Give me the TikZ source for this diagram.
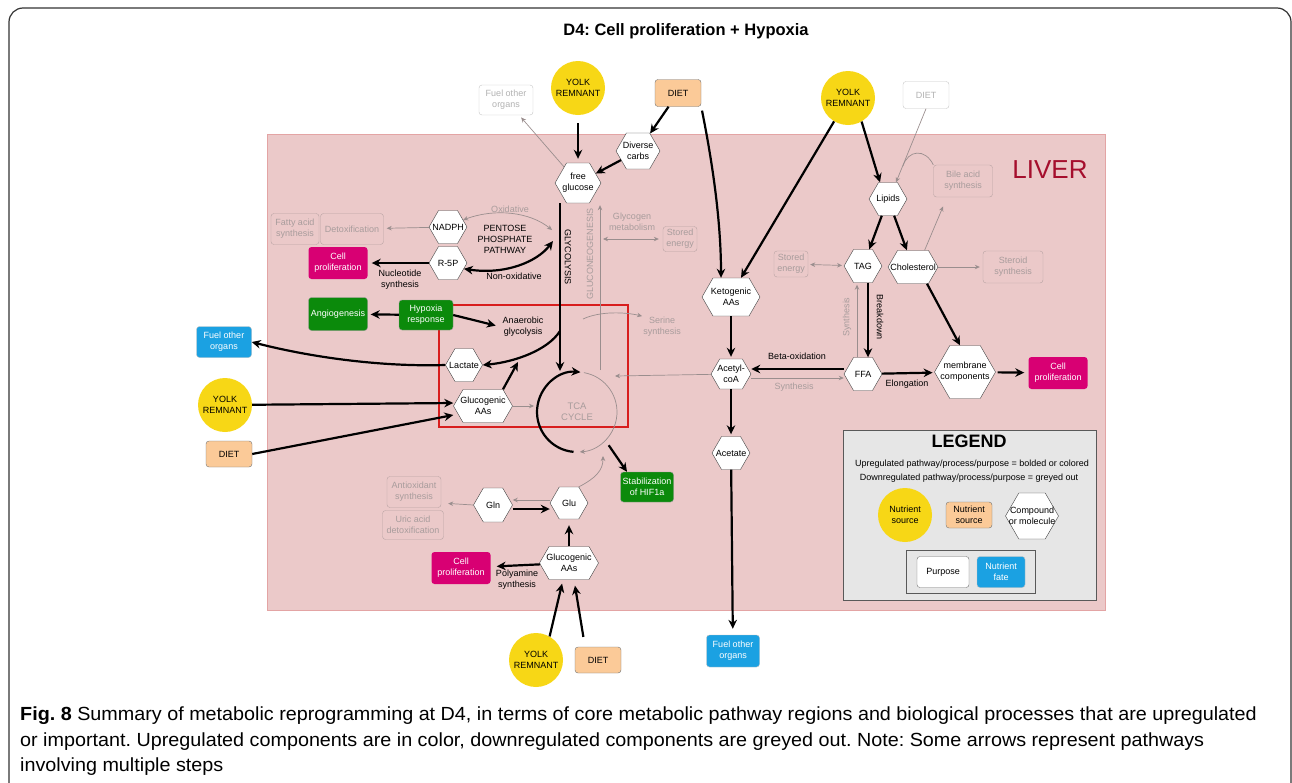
\documentclass[tikz,border=0pt]{standalone}
\usepackage{fontspec}
\setmainfont{Liberation Sans}
\newfontfamily\capfont[FakeStretch=1.04]{Liberation Sans}
\usetikzlibrary{shapes.symbols,arrows.meta}
\definecolor{yolkyellow}{HTML}{F7D716}
\definecolor{peach}{HTML}{FBCA98}
\definecolor{liverfill}{HTML}{EBC9C9}
\definecolor{liverline}{HTML}{E3A4A4}
\definecolor{livertext}{HTML}{A50E2D}
\definecolor{magentabox}{HTML}{D80073}
\definecolor{greenbox}{HTML}{0B8A0B}
\definecolor{bluebox}{HTML}{1BA1E2}
\definecolor{greytext}{HTML}{A89C9C}
\definecolor{greyline}{HTML}{B8A4A4}
\definecolor{greyarrow}{HTML}{9A8E8E}
\definecolor{redbox}{HTML}{D81E1E}
\definecolor{legendfill}{HTML}{E6E6E6}
\frenchspacing
\begin{document}
\begin{tikzpicture}[x=1pt,y=-1pt,
  every node/.style={font=\fontsize{9}{11}\selectfont, align=center, inner sep=1pt},
  txt/.style={font=\fontsize{9}{11}\selectfont, align=center},
  hex/.style={signal, signal to=east and west, signal pointer angle=120, draw=black!75, fill=white, minimum width=38pt, minimum height=33pt, label={[txt]center:#1}},
  yolk/.style={circle, fill=yolkyellow, minimum size=54pt, inner sep=0pt},
  diet/.style={rounded corners=3pt, draw=black!55, fill=peach, minimum width=46pt, minimum height=27pt},
  greybox/.style={rounded corners=3pt, draw=greyline, text=greytext, minimum height=31pt, inner xsep=2pt},
  outbox/.style={rounded corners=3pt, draw=black!22, fill=white, text=black!30},
  cell/.style={rounded corners=3pt, fill=magentabox, text=white, minimum width=59pt, minimum height=32pt},
  greenfill/.style={rounded corners=3pt, fill=greenbox, draw=black!40, text=white},
  bluefill/.style={rounded corners=3pt, fill=bluebox, draw=black!25, text=white},
  arr/.style={line width=2.2pt, >={Stealth[length=9pt,width=8.5pt]}, ->},
  dbl/.style={arr, <->},
  garr/.style={draw=greyarrow, line width=0.7pt, >={Stealth[length=5pt,width=4.5pt]}, ->},
  gdbl/.style={garr, <->}]
\useasboundingbox (0,0) rectangle (1292,782);
\draw[line width=1.2pt, black!80, rounded corners=14pt] (9,800) -- (9,8) -- (1291,8) -- (1291,800);
\node[font=\fontsize{16.5}{18}\selectfont\bfseries] (title) at (686,31) {D4: Cell proliferation + Hypoxia};
\draw[fill=liverfill, draw=liverline, line width=1pt] (267,134) rectangle (1105,610);
\node[font=\fontsize{26}{28}\selectfont, text=livertext] (liver) at (1050,170) {LIVER};
\draw[redbox, line width=1.2pt] (439,305) rectangle (628,427);

\node[yolk] (yolkA) at (578,88) {YOLK\\REMNANT};
\node[diet] (dietA) at (678,93) {DIET};
\node[outbox, minimum width=54pt, minimum height=30pt] (fuelA) at (506,100) {Fuel other\\organs};
\node[hex={Diverse\\carbs}, minimum width=44pt, minimum height=36pt] (carbs) at (638,151) {};
\node[hex={free\\glucose}, minimum width=46pt, minimum height=40pt] (glc) at (578,183) {};
\node[greybox, minimum width=34pt, minimum height=25pt] (storeA) at (680,239) {Stored\\energy};
\node[hex={NADPH}] (nadph) at (448,227) {};
\node[hex={R-5P}] (r5p) at (448,263) {};
\node[greybox, minimum width=63pt] (detox) at (352,229) {Detoxification};
\node[greybox, minimum width=48pt] (fatty) at (295,229) {Fatty acid\\synthesis};
\node[cell] (cellA) at (338,263) {Cell\\proliferation};
\node[txt] (ppp) at (505,239) {PENTOSE\\PHOSPHATE\\PATHWAY};
\node[txt, text=greytext] (oxid) at (510,209) {Oxidative};
\node[txt] (nonox) at (514,276) {Non-oxidative};
\node[txt] (nucl) at (400,280) {Nucleotide\\synthesis};
\node[txt, text=greytext] (glycog) at (632,222) {Glycogen\\metabolism};
\node[txt, rotate=-90] (glyco) at (568,257) {GLYCOLYSIS};
\node[txt, rotate=90, text=greytext] (gneo) at (590,254) {GLUCONEOGENESIS};

\node[greenfill, minimum width=59pt, minimum height=33pt] (angio) at (338,314) {Angiogenesis};
\node[greenfill, minimum width=54pt, minimum height=30pt] (hypox) at (426,315) {Hypoxia\\response};
\node[txt] (anaer) at (523,327) {Anaerobic\\glycolysis};
\node[bluefill, minimum width=55pt, minimum height=31pt] (fuelB) at (224,342) {Fuel other\\organs};
\node[hex={Lactate}, minimum width=37pt] (lact) at (464,365) {};
\node[hex={Glucogenic\\AAs}, minimum width=59pt] (glucoA) at (483,406) {};
\node[yolk] (yolkC) at (225,405) {YOLK\\REMNANT};
\node[diet, minimum height=26pt] (dietC) at (229,454) {DIET};
\node[circle, minimum size=80pt, inner sep=0pt, outer sep=0pt, text=greytext, font=\fontsize{9.5}{11}\selectfont] (tca) at (577,412) {TCA\\CYCLE};
\node[txt, text=greytext] (serine) at (662,327) {Serine\\synthesis};

\node[greenfill, minimum width=53pt, minimum height=30pt] (hif) at (647,487) {Stabilization\\of HIF1a};
\node[hex={Gln}, minimum width=39pt, minimum height=34pt] (gln) at (493,505) {};
\node[hex={Glu}, minimum height=32pt] (glu) at (569,503) {};
\node[hex={Glucogenic\\AAs}, minimum width=59pt] (glucoB) at (569,563) {};
\node[cell] (cellB) at (461,568) {Cell\\proliferation};
\node[greybox, minimum width=54pt] (antiox) at (414,492) {Antioxidant\\synthesis};
\node[greybox, minimum width=61pt, minimum height=29pt] (uric) at (413,525) {Uric acid\\detoxification};
\node[txt] (polya) at (517,580) {Polyamine\\synthesis};
\node[yolk] (yolkD) at (536,660) {YOLK\\REMNANT};
\node[diet, minimum height=26pt] (dietD) at (598,660) {DIET};

\node[yolk] (yolkB) at (848,98) {YOLK\\REMNANT};
\node[outbox, minimum width=46pt, minimum height=27pt] (dietB) at (926,95) {DIET};
\node[hex={Lipids}] (lipids) at (888,199) {};
\node[greybox, minimum width=59pt, minimum height=32pt] (bile) at (963,181) {Bile acid\\synthesis};
\node[hex={TAG}] (tag) at (863,266) {};
\node[hex={Cholesterol}, minimum width=50pt] (chol) at (913,267) {};
\node[greybox, minimum width=60pt, minimum height=32pt] (steroid) at (1013,267) {Steroid\\synthesis};
\node[greybox, minimum width=34pt, minimum height=26pt] (storeB) at (791,264) {Stored\\energy};
\node[hex={Ketogenic\\AAs}, minimum width=58pt, minimum height=38pt] (keto) at (731,297) {};
\node[hex={Acetyl-\\coA}, minimum width=40pt, minimum height=30pt] (acetyl) at (731,374) {};
\node[hex={FFA}] (ffa) at (863,374) {};
\node[hex={membrane\\components}, minimum width=61pt, minimum height=53pt] (memb) at (965,372) {};
\node[cell] (cellR) at (1058,373) {Cell\\proliferation};
\node[hex={Acetate}] (acetate) at (731,453) {};
\node[bluefill, minimum width=53pt, minimum height=32pt] (fuelC) at (733,651) {Fuel other\\organs};
\node[txt] (betaox) at (797,356) {Beta-oxidation};
\node[txt, text=greytext] (synA) at (794,387) {Synthesis};
\node[txt] (elong) at (907,384) {Elongation};
\node[txt, rotate=-90] (brk) at (880,317) {Breakdown};
\node[txt, rotate=90, text=greytext] (synB) at (847,317) {Synthesis};

\draw[fill=legendfill, draw=black!65, line width=0.8pt] (843,430) rectangle (1096,600);
\node[font=\fontsize{18}{20}\selectfont\bfseries] (legend) at (969,441) {LEGEND};
\node[txt] (legup) at (972,464) {Upregulated pathway/process/purpose = bolded or colored};
\node[txt] (legdown) at (969,478) {Downregulated pathway/process/purpose = greyed out};
\node[yolk] (legyolk) at (905,515) {Nutrient\\source};
\node[diet, minimum height=26pt] (legdiet) at (969,515) {Nutrient\\source};
\node[hex={Compound\\or molecule}, minimum width=53pt, minimum height=46pt] (leghex) at (1032,516) {};
\draw[fill=legendfill, draw=black!65, line width=0.8pt] (906,550) rectangle (1035,593);
\node[rounded corners=3pt, draw=black!55, fill=white, minimum width=52pt, minimum height=31pt] (legpurp) at (943,572) {Purpose};
\node[bluefill, minimum width=48pt, minimum height=31pt] (legfate) at (1001,572) {Nutrient\\fate};

\coordinate (tcaIn) at (615,376);
\coordinate (oxEnd) at (552,230);
\coordinate (ppEnd) at (553,241);
\coordinate (anaerPt) at (518,362);
\coordinate (gly) at (560,331);
\coordinate (tcaTop) at (560,371);
\coordinate (gneoBot) at (600,370);
\coordinate (gneoMid) at (603,239);
\coordinate (serStart) at (583,319);
\coordinate (tcaLow) at (603,456);
\coordinate (bend) at (903,166);

\draw[arr, shorten <=8pt, shorten >=4pt] (yolkA) -- (glc);
\draw[arr] (dietA) -- (carbs);
\draw[arr] (carbs) -- (glc);
\draw[garr, shorten >=3pt] (glc) -- (fuelA);
\draw[arr, shorten <=4pt] (dietA.south east) .. controls (712,160) and (721,220) .. ([xshift=-10pt]keto.north);
\draw[arr] (yolkB) -- ([xshift=10pt]keto.north);
\draw[arr] (yolkB.-60) -- ([xshift=-8pt]lipids.north);
\draw[garr] (dietB.south) -- ([xshift=8pt]lipids.north);
\draw[draw=greyarrow, line width=0.7pt] (bile.north west) .. controls (925,148) and (908,150) .. (bend);
\draw[arr] (lipids) -- (tag);
\draw[arr] (lipids) -- (chol);
\draw[garr, shorten >=10pt] ([xshift=-4pt]chol.north east) -- ([xshift=-16pt]bile.south);
\draw[garr, shorten >=3pt] (chol) -- (steroid);
\draw[gdbl, shorten <=2pt, shorten >=2pt] (storeB) -- (tag);
\draw[arr] ([xshift=5pt]tag.south) -- ([xshift=5pt]ffa.north);
\draw[garr, shorten >=2pt] ([xshift=-6pt]ffa.north) -- ([xshift=-6pt]tag.south);
\draw[arr] ([xshift=14pt]chol.south) -- ([xshift=-5pt]memb.north);
\draw[arr] ([yshift=5pt]ffa.west) -- ([yshift=5pt]acetyl.east);
\draw[garr] ([yshift=-4pt]acetyl.east) -- ([yshift=-4pt]ffa.west);
\draw[arr, shorten >=2pt] (ffa) -- (memb);
\draw[arr, shorten <=2pt, shorten >=4pt] (memb) -- (cellR);
\draw[arr, shorten >=2pt] (keto) -- (acetyl);
\draw[arr, shorten >=2pt] (acetyl) -- (acetate);
\draw[arr, shorten >=6pt] (acetate) -- (fuelC);
\draw[garr] (acetyl) -- (tcaIn);

\draw[garr, shorten >=3pt] (nadph) -- (detox);
\draw[arr, shorten >=4pt] (r5p) -- (cellA);
\draw[gdbl] (nadph.25) .. controls (495,208) and (530,212) .. (oxEnd);
\draw[dbl] (r5p.-20) .. controls (505,275) and (537,262) .. (ppEnd);
\draw[arr] ([xshift=-18pt]glc.south) -- (tcaTop);
\draw[garr, shorten >=2pt] (gneoBot) -- ([xshift=22pt]glc.south);
\draw[gdbl, shorten >=4pt] (gneoMid) -- (storeA.west);
\draw[arr] (gly) .. controls (548,350) and (515,362) .. (lact.east);
\draw[arr, shorten >=3pt] (hypox) -- (angio);
\draw[arr, shorten >=6pt] (hypox.east) -- (anaer.west);
\draw[arr] (lact.west) .. controls (380,367) and (310,357) .. (fuelB.east);
\draw[arr] (yolkC) -- ([yshift=3pt]glucoA.west);
\draw[arr] (dietC.east) -- ([yshift=-9pt]glucoA.west);
\draw[arr] ([xshift=20pt]glucoA.north) -- (anaerPt);
\draw[garr, shorten >=3pt] (glucoA.east) -- ([yshift=6pt]tca.west);
\draw[arr] (tca.265) arc[start angle=265, end angle=85, radius=40pt];
\draw[garr] (tca.80) arc[start angle=80, end angle=-86, radius=40pt];
\draw[garr] (serStart) .. controls (600,311) and (625,312) .. (serine.north west);
\draw[garr] (glu.north east) .. controls (596,478) and (603,470) .. (tcaLow);
\draw[arr, shorten <=6pt] (tca.-45) -- ([xshift=-20pt]hif.north);

\draw[arr] ([yshift=-4pt]gln.east) -- ([yshift=-6pt]glu.west);
\draw[garr] ([yshift=3pt]glu.west) -- ([yshift=5pt]gln.east);
\draw[garr, shorten >=7pt] (gln.west) -- ([yshift=-11pt]antiox.east);
\draw[arr, shorten >=6pt] (glucoB) -- (glu);
\draw[arr, shorten >=6pt] (glucoB) -- (cellB);
\draw[arr, shorten >=4pt] (yolkD.60) -- ([xshift=-6pt]glucoB.south);
\draw[arr, shorten <=10pt, shorten >=6pt] ([xshift=-13pt]dietD.north) -- ([xshift=5pt]glucoB.south);

\node[anchor=north west, align=left, inner sep=0pt, font=\capfont\fontsize{19}{25.5}\selectfont] (caption) at (20,707)
  {\textbf{Fig. 8} Summary of metabolic reprogramming at D4, in terms of core metabolic pathway regions and biological processes that are upregulated\\
   or important. Upregulated components are in color, downregulated components are greyed out. Note: Some arrows represent pathways\\
   involving multiple steps};
\end{tikzpicture}
\end{document}
